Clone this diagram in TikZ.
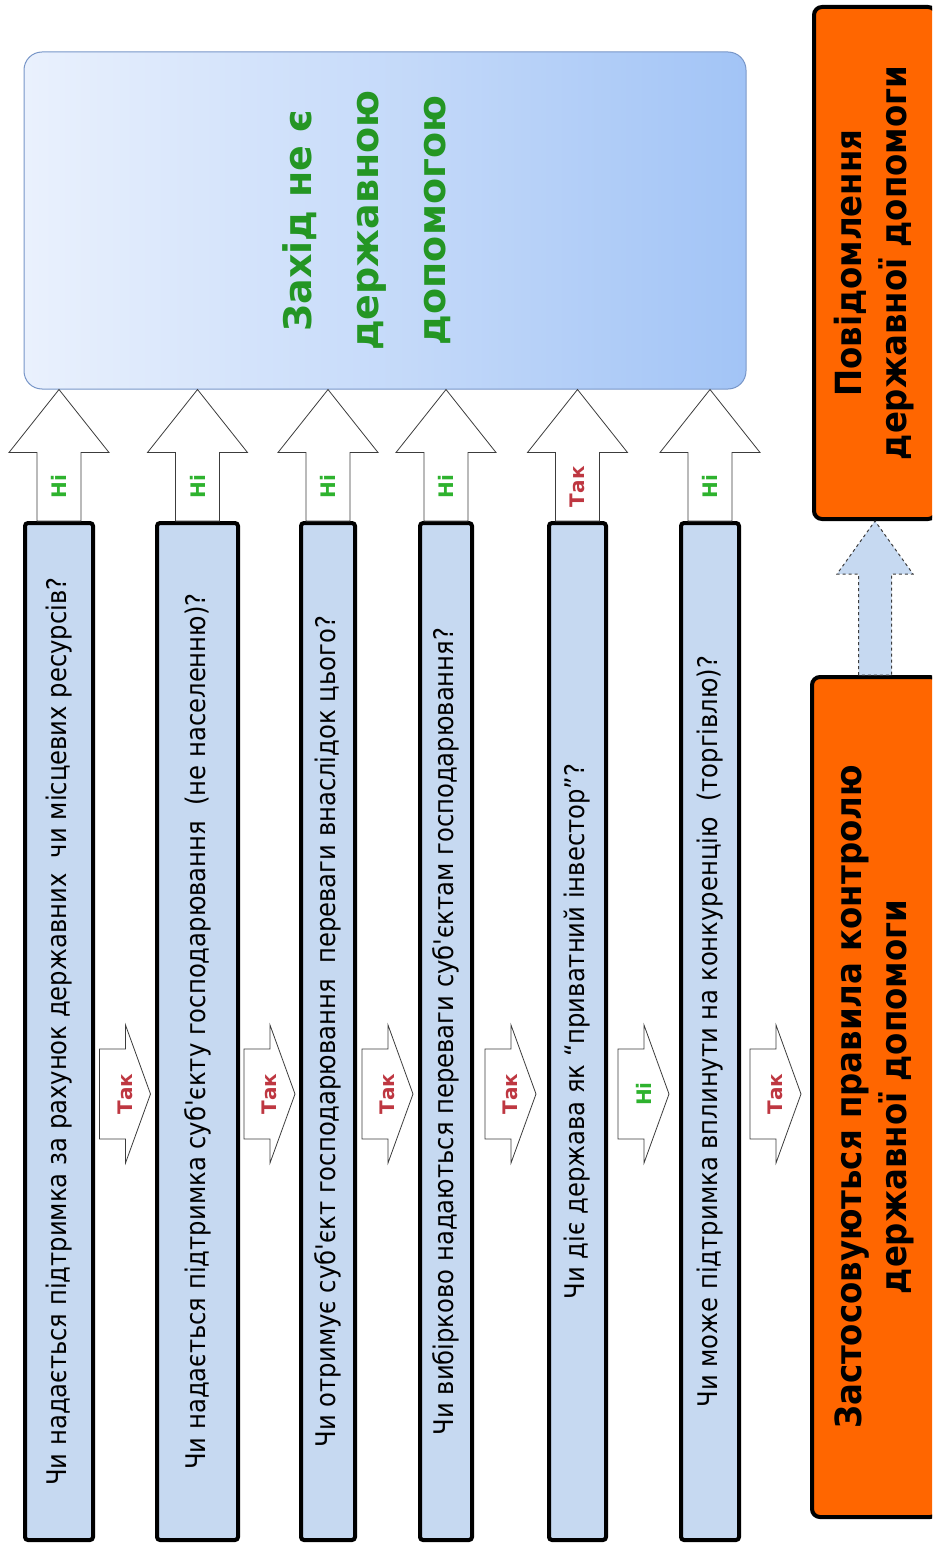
\documentclass[tikz,border=0pt]{standalone}
\usepackage{fontspec}
\setmainfont{DejaVu Sans}
\newfontfamily\condfont{DejaVu Sans Condensed}
\usepackage{graphicx}
\usetikzlibrary{positioning, calc}

\definecolor{barblue}{RGB}{198,217,241}
\definecolor{resleft}{RGB}{234,241,253}
\definecolor{resright}{RGB}{162,196,246}
\definecolor{resline}{RGB}{120,150,200}
\definecolor{notifyorange}{RGB}{255,102,0}
\definecolor{arrline}{RGB}{60,60,60}
\definecolor{textgreen}{RGB}{36,150,36}
\definecolor{nogreen}{RGB}{46,178,46}
\definecolor{yesred}{RGB}{190,55,65}

\tikzset{
  question/.style={draw, line width=4pt, fill=barblue, rounded corners=3pt,
    minimum height=1017pt, inner sep=0pt, font=\condfont\fontsize{27}{32}\selectfont},
  outcome/.style={draw, line width=4pt, fill=notifyorange, rounded corners=8pt,
    inner sep=0pt, font=\condfont\bfseries\fontsize{36}{45}\selectfont},
  result/.style={draw=resline, line width=1pt, left color=resleft, right color=resright,
    rounded corners=18pt, inner sep=0pt, text=textgreen,
    font=\bfseries\fontsize{38}{67}\selectfont},
  blockarr/.style={draw=arrline, fill=white, line width=0.8pt},
  dasharr/.style={draw=arrline, fill=barblue, line width=1pt, dashed},
  answer/.style={rotate=90, inner sep=0pt, font=\bfseries\fontsize{20}{20}\selectfont},
}

% block arrow from a question up to the result box
\newcommand{\uparr}[4]{%
  \coordinate (tip) at (#1.north |- #2.south);
  \coordinate (neck) at ($(tip)+(0,63)$);
  \coordinate (foot) at (#1.north);
  \draw[blockarr] ($(foot)+(-22,0)$) -- ($(neck)+(-22,0)$) -- ($(neck)+(-50,0)$) -- (tip)
    -- ($(neck)+(50,0)$) -- ($(neck)+(22,0)$) -- ($(foot)+(22,0)$) -- cycle;
  \node[answer, text=#4] at ($(foot)!0.5!(neck)$) {#3};
}
% block arrow from one question to the next one
\newcommand{\sidearr}[4]{%
  \coordinate (mid) at ($(#1.east)!0.5!(#2.west)$);
  \coordinate (ctr) at (mid |- tak);
  \draw[blockarr] ($(ctr)+(-25.5,-45)$) -- ($(ctr)+(0.5,-45)$) -- ($(ctr)+(0.5,-69)$)
    -- ($(ctr)+(25.5,0)$) -- ($(ctr)+(0.5,69)$) -- ($(ctr)+(0.5,45)$)
    -- ($(ctr)+(-25.5,45)$) -- cycle;
  \node[answer, text=#4] at (ctr) {#3};
}

\begin{document}
\begin{tikzpicture}[x=1pt, y=-1pt, node distance=60pt]
  \useasboundingbox (0,0) rectangle (932,1546);
  \clip (0,0) rectangle (932,1546);

  % the questions
  \node (q1) [question, minimum width=68pt] at (59,1031.5)
    {\rotatebox{90}{Чи надається підтримка за рахунок державних\ \ чи місцевих ресурсів?}};
  \node (q2) [question, minimum width=81pt, right=of q1]
    {\rotatebox{90}{Чи надається підтримка суб'єкту господарювання\ \ (не населенню)?}};
  \node (q3) [question, minimum width=54pt, right=59pt of q2]
    {\rotatebox{90}{Чи отримує суб'єкт господарювання\ \ переваги внаслідок цього?}};
  \node (q4) [question, minimum width=52pt, right=61pt of q3]
    {\rotatebox{90}{Чи вибірково надаються переваги суб'єктам господарювання?}};
  \node (q5) [question, minimum width=57pt, right=73pt of q4]
    {\rotatebox{90}{Чи діє держава як “приватний інвестор”?}};
  \node (q6) [question, minimum width=58pt, right=71pt of q5]
    {\rotatebox{90}{Чи може підтримка вплинути на конкуренцію\ \ (торгівлю)?}};

  % the outcomes
  \node (res) [result, minimum width=722pt, minimum height=337pt] at (385,220.5)
    {\rotatebox{90}{\begin{tabular}{@{}c@{}}Захід не є\\державною\\допомогою\end{tabular}}\hspace{40pt}\null};
  \node (notif) [outcome, minimum width=122pt, minimum height=512pt] at (875,263)
    {\rotatebox{90}{\begin{tabular}{@{}c@{}}Повідомлення\\державної допомоги\end{tabular}}};
  \node (rules) [outcome, minimum width=126pt, minimum height=840pt] at (875,1097)
    {\rotatebox{90}{\begin{tabular}{@{}c@{}}Застосовуються правила контролю\\державної допомоги\end{tabular}}};

  % answers towards the result box
  \uparr{q1}{res}{Ні}{nogreen}
  \uparr{q2}{res}{Ні}{nogreen}
  \uparr{q3}{res}{Ні}{nogreen}
  \uparr{q4}{res}{Ні}{nogreen}
  \uparr{q5}{res}{Так}{yesred}
  \uparr{q6}{res}{Ні}{nogreen}

  % answers towards the next question
  \coordinate (tak) at (0,1094);
  \sidearr{q1}{q2}{Так}{yesred}
  \sidearr{q2}{q3}{Так}{yesred}
  \sidearr{q3}{q4}{Так}{yesred}
  \sidearr{q4}{q5}{Так}{yesred}
  \sidearr{q5}{q6}{Ні}{nogreen}
  \sidearr{q6}{rules}{Так}{yesred}

  % rules -> notification
  \coordinate (top) at (rules.north |- notif.south);
  \coordinate (head) at ($(top)+(0,53)$);
  \draw[dasharr] ($(rules.north)+(-16.5,0)$) -- ($(head)+(-16.5,0)$) -- ($(head)+(-38,0)$)
    -- (top) -- ($(head)+(38,0)$) -- ($(head)+(16.5,0)$) -- ($(rules.north)+(16.5,0)$) -- cycle;
\end{tikzpicture}
\end{document}
